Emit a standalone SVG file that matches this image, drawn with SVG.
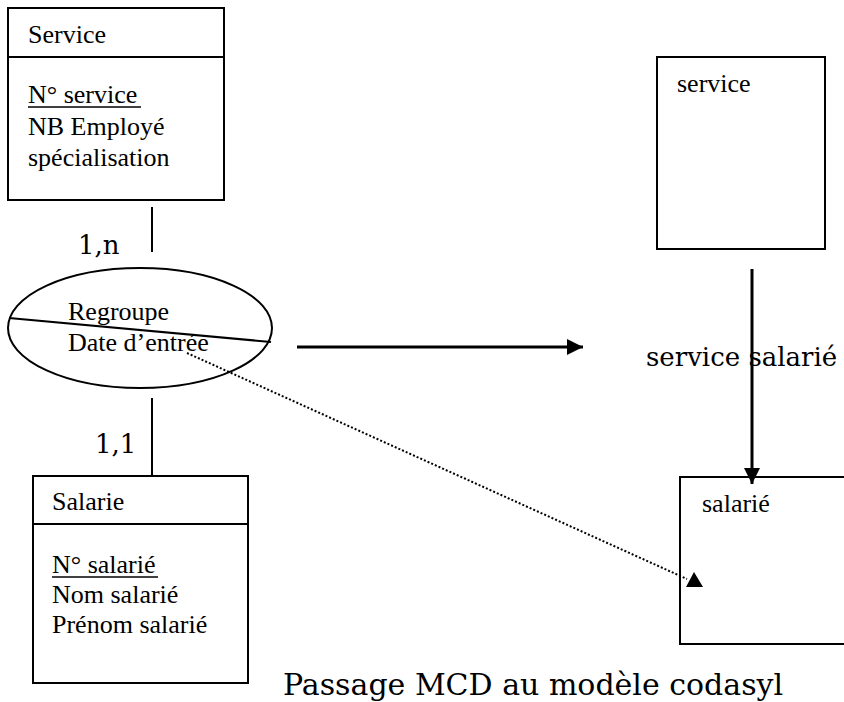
<svg xmlns="http://www.w3.org/2000/svg" width="844" height="702" viewBox="0 0 844 702">
<style>
.box{fill:#fff;stroke:#000;stroke-width:2}
.ln{stroke:#000;stroke-width:2;fill:none}
.con{stroke:#000;stroke-width:3;fill:none}
</style>
<defs>
<marker id="ah" viewBox="0 0 16 16" refX="16" refY="8" markerWidth="16" markerHeight="16" markerUnits="userSpaceOnUse" orient="auto">
<path d="M0,0 L16,8 L0,16 Z" fill="#000"/>
</marker>
</defs>
<g font-family="Liberation Serif, Times New Roman, serif" font-size="26" fill="#000">
<g id="service">
<rect class="box" x="8" y="8" width="216" height="192"/>
<line class="ln" x1="8" y1="57" x2="224" y2="57"/>
<text x="28" y="43">Service</text>
<text x="28" y="103">N° service</text>
<line x1="28" y1="107" x2="141" y2="107" stroke="#000" stroke-width="1.5"/>
<text x="28" y="135">NB Employé</text>
<text x="28" y="166">spécialisation</text>
</g>
<g id="regroupe">
<ellipse class="box" cx="140" cy="328" rx="132" ry="60"/>
<line class="ln" x1="9" y1="318" x2="271" y2="342"/>
<text x="68" y="320">Regroupe</text>
<text x="68" y="351">Date d’entrée</text>
</g>
<g id="salarie">
<rect class="box" x="33" y="476" width="215" height="207"/>
<line class="ln" x1="33" y1="524" x2="248" y2="524"/>
<text x="52" y="510">Salarie</text>
<text x="52" y="573">N° salarié</text>
<line x1="52" y1="577" x2="158" y2="577" stroke="#000" stroke-width="1.5"/>
<text x="52" y="603">Nom salarié</text>
<text x="52" y="633">Prénom salarié</text>
</g>
<g id="service2">
<rect class="box" x="657" y="57" width="168" height="192"/>
<text x="677" y="92">service</text>
</g>
<g id="salarie2">
<rect class="box" x="680" y="477" width="170" height="167"/>
<text x="702" y="512">salarié</text>
</g>
</g>
<g id="connectors">
<line class="ln" x1="152" y1="207" x2="152" y2="252"/>
<line class="ln" x1="152" y1="398" x2="152" y2="476"/>
<line class="con" x1="297" y1="347" x2="583" y2="347" marker-end="url(#ah)"/>
<line class="con" x1="752" y1="269" x2="752" y2="484" marker-end="url(#ah)"/>
<line x1="187" y1="353" x2="687" y2="579" stroke="#000" stroke-width="2" stroke-dasharray="2 2"/>
<polygon points="694,572 703,587 686,587" fill="#000"/>
</g>
<g font-family="DejaVu Serif, serif" font-size="26" fill="#000">
<text x="78" y="254">1,n</text>
<text x="95" y="453">1,1</text>
<text x="646" y="366">service salarié</text>
<text x="283" y="695" font-size="30">Passage MCD au modèle codasyl</text>
</g>
</svg>
